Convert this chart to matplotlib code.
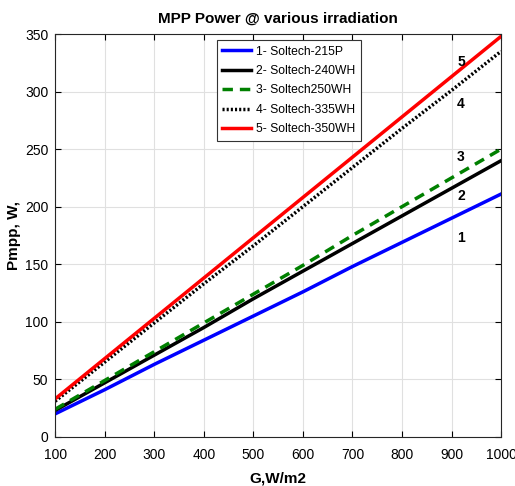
import matplotlib.pyplot as plt
import numpy as np

plt.rcParams['font.family'] = ['Liberation Sans', 'DejaVu Sans']

G = [100, 200, 300, 400, 500, 600, 700, 800, 900, 1000]
p_215 = [20, 41, 63, 84, 105, 126, 148, 169, 190, 211]
p_240 = [23, 47, 71, 95, 120, 144, 168, 192, 216, 240]
p_250 = [24, 49, 74, 99, 124, 149, 175, 200, 225, 250]
p_335 = [31, 65, 99, 133, 166, 200, 234, 268, 301, 335]
p_350 = [33, 68, 103, 138, 173, 208, 243, 278, 313, 348]

names = ['1- Soltech-215P', '2- Soltech-240WH', '3- Soltech250WH',
         '4- Soltech-335WH', '5- Soltech-350WH']
tags = ['1', '2', '3', '4', '5']
tag_y = [173, 209, 243, 289, 326]

fig = plt.figure(figsize=(5.15, 4.86), dpi=100)
ax = fig.add_axes([0.107, 0.101, 0.866, 0.829])

ax.plot(G, p_215, color='#0000ff', lw=2.5, label=names[0])
ax.plot(G, p_240, color='black', lw=2.5, label=names[1])
ax.plot(G, p_250, color='#008000', lw=2.5, ls=(0, (3, 2)), label=names[2])
ax.plot(G, p_335, color='black', lw=2.5, ls=(0, (0.6, 0.6)), label=names[3])
ax.plot(G, p_350, color='#ff0000', lw=2.5, label=names[4])

for t, y in zip(tags, tag_y):
    ax.text(919, y, t, fontsize=10, fontweight='bold', ha='center', va='center')

ax.set_xlim(100, 1000)
ax.set_ylim(0, 350)
ax.set_xticks(np.arange(100, 1001, 100))
ax.set_yticks(np.arange(0, 351, 50))
ax.grid(True, color='#e0e0e0', lw=0.8)
ax.tick_params(direction='in', top=True, right=True, labelsize=10, length=4)
ax.tick_params(axis='x', pad=8)
ax.tick_params(axis='y', pad=5)
for s in ax.spines.values():
    s.set_linewidth(0.8)
    s.set_color('#262626')

ax.set_title('MPP Power @ various irradiation', fontsize=11, fontweight='bold', pad=8)
ax.set_xlabel('G,W/m2', fontsize=11, fontweight='bold', labelpad=7)
ax.set_ylabel('Pmpp, W,', fontsize=11, fontweight='bold', labelpad=3)

leg = ax.legend(loc='upper left', bbox_to_anchor=(0.363, 0.985), borderaxespad=0,
                fontsize=8.7, fancybox=False, edgecolor='#333333', framealpha=1,
                handlelength=2.35, handletextpad=0.45, borderpad=0.45,
                labelspacing=0.62)
leg.get_frame().set_linewidth(0.8)

fig.savefig('out.png', dpi=100)
